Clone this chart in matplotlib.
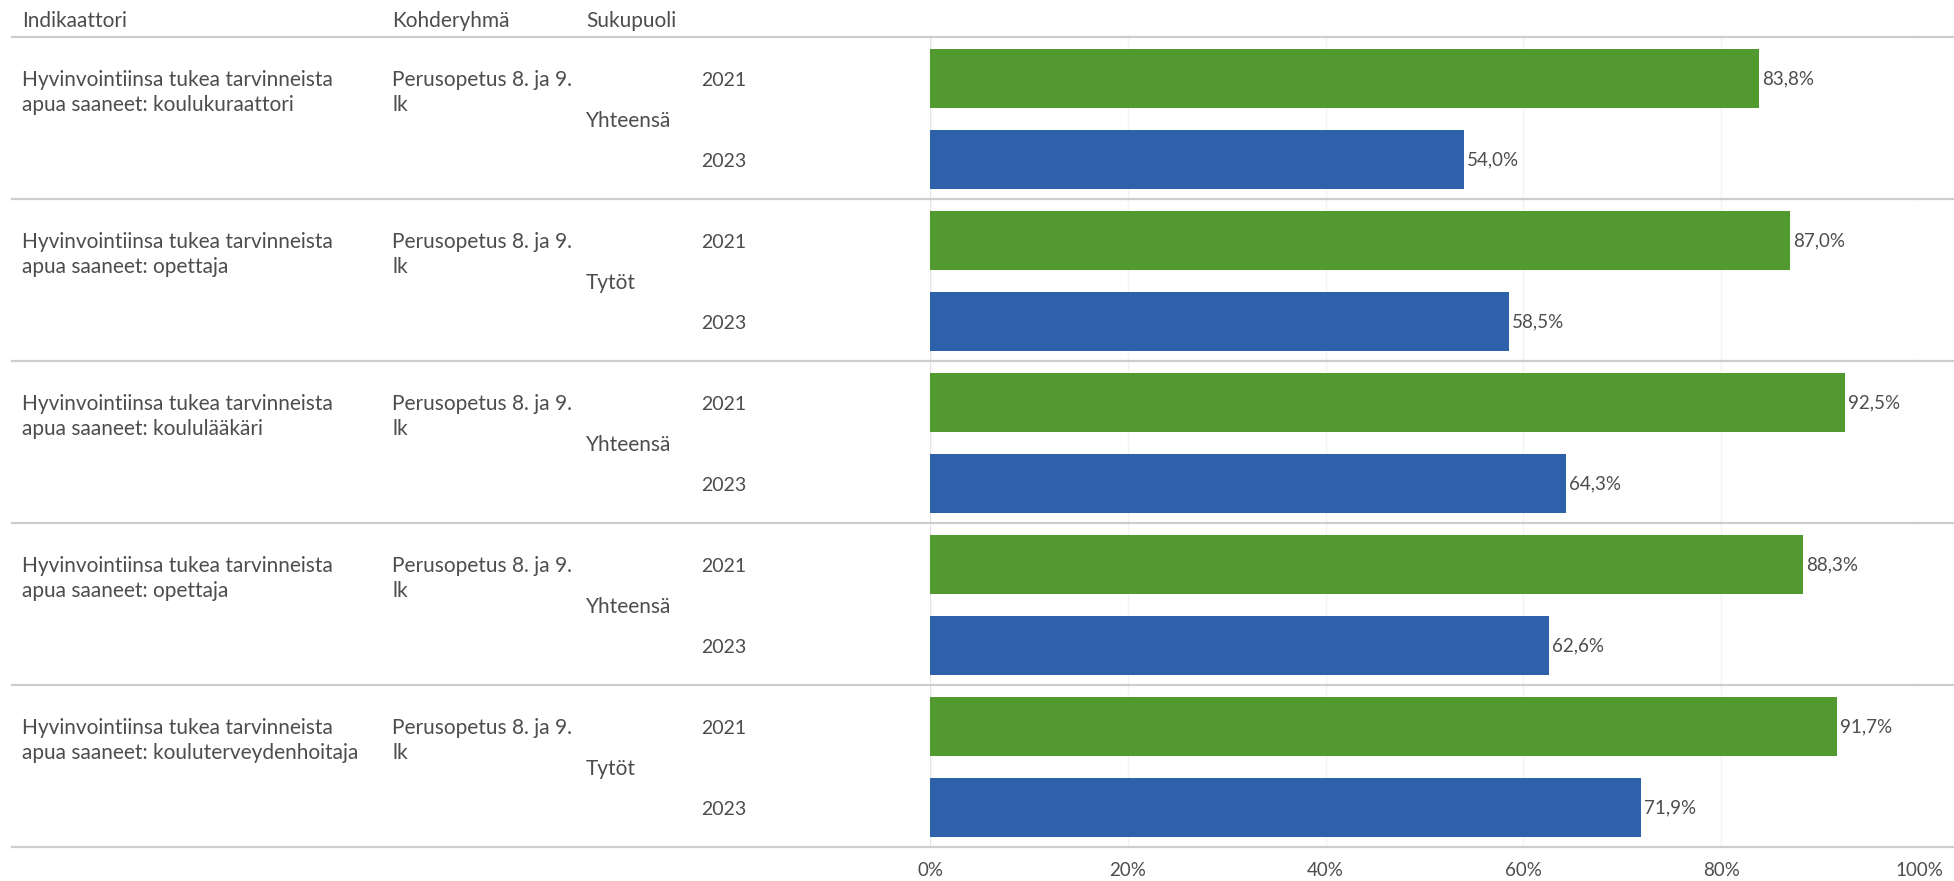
"""Hyvinvointiinsa tukea tarvinneista apua saaneet, 2021 vs 2023 (Tableau-style table of bars)."""
import matplotlib

matplotlib.use("Agg")
import matplotlib.pyplot as plt
from matplotlib.lines import Line2D
from matplotlib.transforms import blended_transform_factory

plt.rcParams.update({"font.family": ["Lato", "DejaVu Sans"], "font.size": 15})

INDICATORS = [
    "Hyvinvointiinsa tukea tarvinneista\napua saaneet: koulukuraattori",
    "Hyvinvointiinsa tukea tarvinneista\napua saaneet: opettaja",
    "Hyvinvointiinsa tukea tarvinneista\napua saaneet: koululääkäri",
    "Hyvinvointiinsa tukea tarvinneista\napua saaneet: opettaja",
    "Hyvinvointiinsa tukea tarvinneista\napua saaneet: kouluterveydenhoitaja",
]
TARGETS = ["Perusopetus 8. ja 9.\nlk"] * 5
SEXES = ["Yhteensä", "Tytöt", "Yhteensä", "Yhteensä", "Tytöt"]
YEARS = ["2021", "2023"]
VALUES_2021 = [83.8, 87.0, 92.5, 88.3, 91.7]
VALUES_2023 = [54.0, 58.5, 64.3, 62.6, 71.9]
HEADERS = ["Indikaattori", "Kohderyhmä", "Sukupuoli"]
XTICKS = [0, 20, 40, 60, 80, 100]

GREEN = "#529a2f"
BLUE = "#2d62ab"
TEXT = "#4d4d4d"
SEP = "#cdcdcd"
LABEL_FS = 13.5

W, H = 1954, 881
fig = plt.figure(figsize=(W / 100, H / 100), dpi=100)
# plot area: x 930..1919 px, y 37..847 px
ax = fig.add_axes([930 / W, 1 - 847 / H, 989 / W, 810 / H])
n = len(INDICATORS)
ax.set_xlim(0, 100)
ax.set_ylim(n, 0)

rows = list(range(n))
ax.barh([r + 0.256 for r in rows], VALUES_2021, height=0.364, color=GREEN, zorder=3)
ax.barh([r + 0.756 for r in rows], VALUES_2023, height=0.364, color=BLUE, zorder=3)

for r in rows:
    for val, off in ((VALUES_2021[r], 0.256), (VALUES_2023[r], 0.756)):
        ax.text(val + 0.3, r + off, f"{val:.1f}%".replace(".", ","), va="center",
                ha="left", color=TEXT, fontsize=LABEL_FS, zorder=4)

# faint gridlines
for t in XTICKS:
    ax.axvline(t, color="#f3f3f3", lw=1, zorder=1)
ax.axvline(0, color="#e4e4e4", lw=1, zorder=2)

ax.set_xticks(XTICKS)
ax.set_xticklabels([f"{t}%" for t in XTICKS], color=TEXT, fontsize=LABEL_FS)
ax.tick_params(axis="x", length=0, pad=11)
ax.set_yticks([])
for s in ax.spines.values():
    s.set_visible(False)

# table text on the left: x in figure pixels, y in data rows
tr = blended_transform_factory(fig.transFigure, ax.transData)
col_x = [22 / W, 392 / W, 586 / W]
year_x = 701 / W
for x, h in zip(col_x, HEADERS):
    ax.text(x, -0.10, h, transform=tr, va="center", ha="left", color=TEXT, clip_on=False)
for r in rows:
    ax.text(col_x[0], r + 0.345, INDICATORS[r], transform=tr, va="center", ha="left",
            color=TEXT, linespacing=1.3, clip_on=False)
    ax.text(col_x[1], r + 0.345, TARGETS[r], transform=tr, va="center", ha="left",
            color=TEXT, linespacing=1.3, clip_on=False)
    ax.text(col_x[2], r + 0.52, SEXES[r], transform=tr, va="center", ha="left",
            color=TEXT, clip_on=False)
    ax.text(year_x, r + 0.27, YEARS[0], transform=tr, va="center", ha="left",
            color=TEXT, fontsize=LABEL_FS + 0.5, clip_on=False)
    ax.text(year_x, r + 0.77, YEARS[1], transform=tr, va="center", ha="left",
            color=TEXT, fontsize=LABEL_FS + 0.5, clip_on=False)

# row separators across the whole table
for r in range(n + 1):
    fig.add_artist(Line2D([12 / W, 1.0], [r, r], transform=tr, color=SEP, lw=1.6,
                          zorder=5))

fig.savefig("out.png", dpi=100, facecolor="white")
